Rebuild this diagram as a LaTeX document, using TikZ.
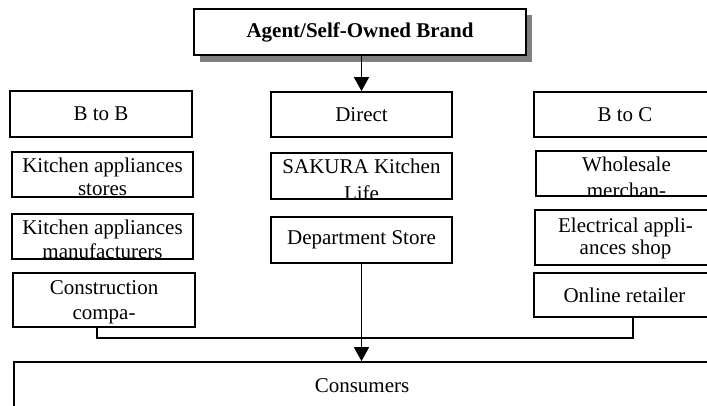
\documentclass[tikz,border=0pt]{standalone}
\usepackage{fontspec}
\setmainfont{Liberation Serif}
\usetikzlibrary{arrows.meta}

\definecolor{shadowgray}{RGB}{128,128,128}

\tikzset{
  box/.style={draw, line width=1.8pt, fill=white, inner sep=0pt,
    font=\fontsize{21}{24}\selectfont},
  lbl/.style={inner sep=0pt, font=\fontsize{21}{24}\selectfont},
  conn/.style={line width=1.7pt},
  arr/.style={conn, -{Triangle[length=14pt,width=15pt]}},
}

% rectangle node given by its left, top, right and bottom edges
\newcommand{\rectnode}[6]{%
  \node[box, minimum width={#4-#2}, minimum height={#5-#3}] (#1)
    at ({(#2+#4)/2},{(#3+#5)/2}) {#6};}

% two lines of text set from the top of a box and cut off at its border
\newcommand{\cuttext}[5]{%
  \begin{scope}
    \clip (#1.north west) rectangle (#1.south east);
    \node[lbl, anchor=base] (#1-a) at ([yshift=-#2pt]#1.north) {#4};
    \node[lbl, anchor=base] (#1-b) at ([yshift=-#3pt]#1.north) {#5};
  \end{scope}}

\begin{document}
\begin{tikzpicture}[x=1pt, y=-1pt]
\useasboundingbox (0,0) rectangle (707,405);
\begin{scope}
\clip (0,0) rectangle (707,405);

% head box with its shadow
\fill[shadowgray] (200,15) rectangle (532,62);
\rectnode{brand}{194}{9}{526}{55}{\textbf{Agent/Self-Owned Brand}}

% channel headers
\rectnode{btob}{10}{91}{192}{137}{B to B}
\rectnode{direct}{271}{92}{452}{137}{Direct}
\rectnode{btoc}{534}{92}{716}{137}{B to C}

% B to B column
\rectnode{kas}{12}{152}{193}{197}{}
\cuttext{kas}{21}{44}{Kitchen appliances}{stores}
\rectnode{kam}{12}{214}{193}{259}{}
\cuttext{kam}{21}{45}{Kitchen appliances}{manufacturers}
\rectnode{cons}{13}{273}{195}{327}{}
\cuttext{cons}{22}{47}{Construction}{compa-}

% Direct column
\rectnode{sakura}{271}{153}{452}{199}{}
\cuttext{sakura}{21}{48}{SAKURA Kitchen}{Life}
\rectnode{dept}{271}{217}{452}{263}{Department Store}

% B to C column
\rectnode{whole}{536}{151}{717}{196}{}
\cuttext{whole}{21}{47}{Wholesale}{merchan-}
\rectnode{elec}{535}{210}{716}{265}{}
\cuttext{elec}{23}{45}{Electrical appli-}{ances shop}
\rectnode{online}{534}{273}{715}{317}{Online retailer}

% end customers
\rectnode{consumers}{14}{362}{710}{420}{}
\node[lbl] (consumers-t) at ([yshift=-25pt]consumers.north) {Consumers};

% connectors
\coordinate (bus) at (362,338);
\draw[arr] (direct.north |- brand.south) -- (direct.north);
\draw[conn] ([xshift=-7pt]cons.south) |- (bus) -| ([xshift=8.5pt]online.south);
\draw[arr] (dept.south) -- (dept.south |- consumers.north);
\end{scope}
\end{tikzpicture}
\end{document}
